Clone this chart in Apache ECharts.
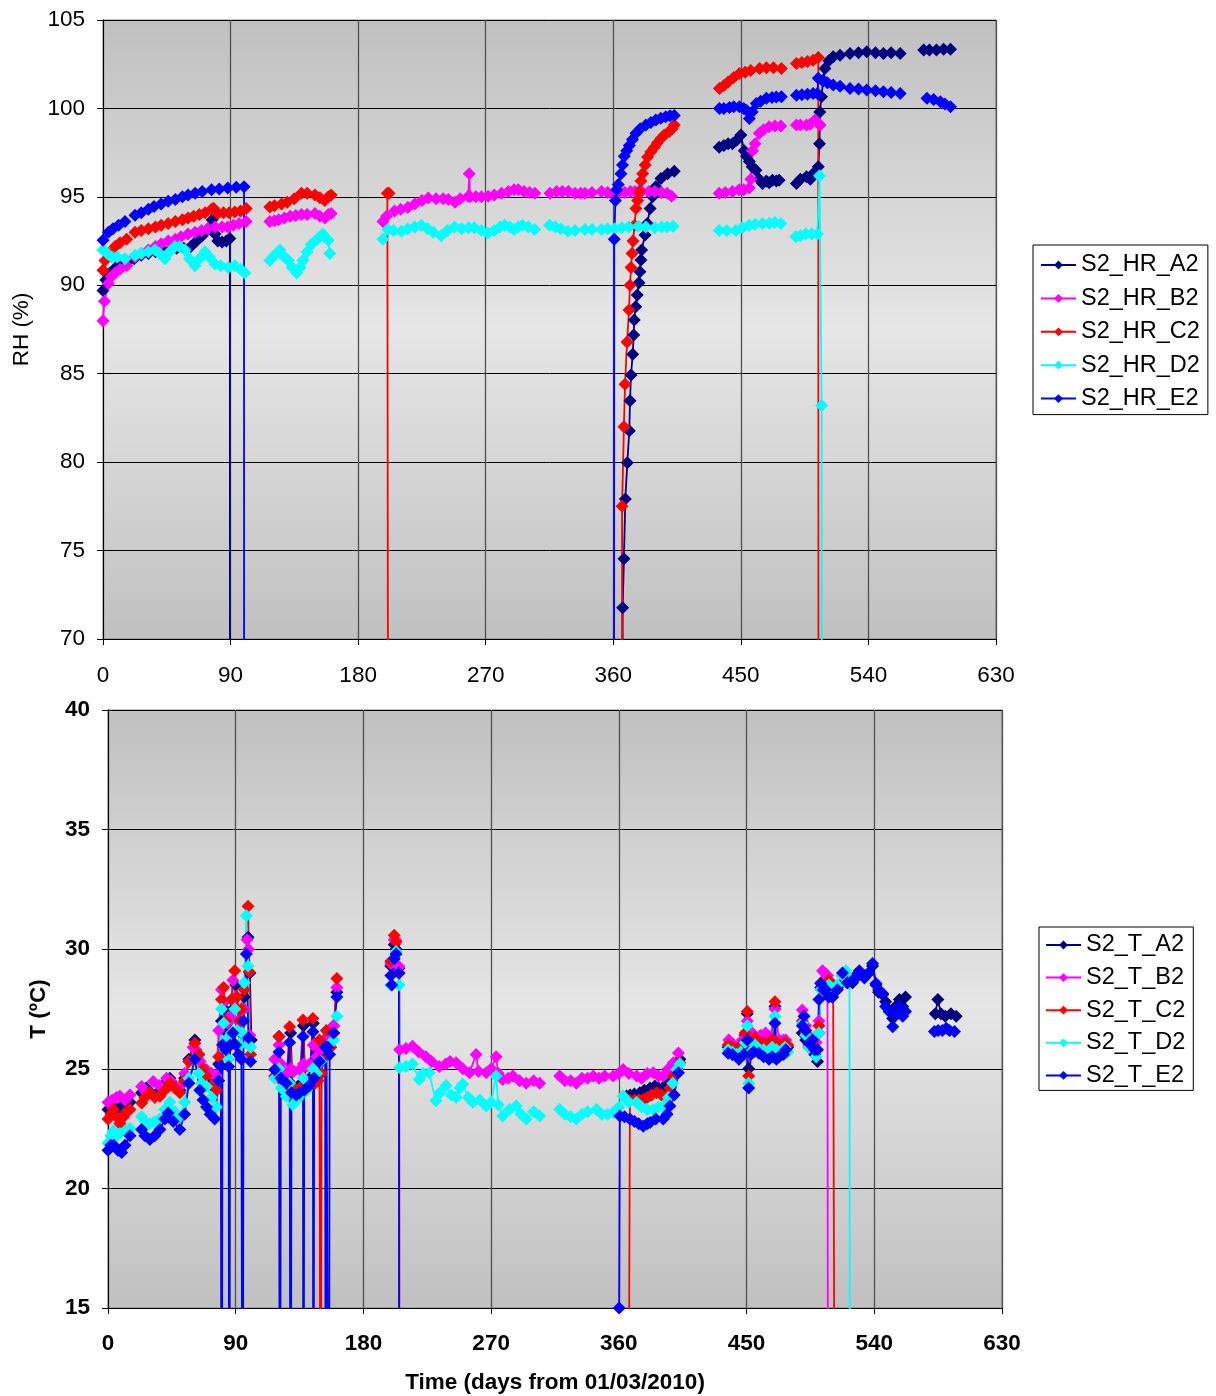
<!DOCTYPE html>
<html><head><meta charset="utf-8">
<script src="https://cdn.jsdelivr.net/npm/echarts@6/dist/echarts.min.js"></script>
<style>html,body{margin:0;padding:0;background:#fff}#c{width:1216px;height:1396px}</style>
</head><body><div id="c"></div>
<script>
// ---------- Data (day, value); null = gap, 0 = sensor drop below axis ----------
const xTicks = [0, 90, 180, 270, 360, 450, 540, 630];
const hrNames = ['S2_HR_A2','S2_HR_B2','S2_HR_C2','S2_HR_D2','S2_HR_E2'];
const tNames = ['S2_T_A2','S2_T_B2','S2_T_C2','S2_T_D2','S2_T_E2'];
const colors = ['#000080','#ff00ff','#ff0000','#00ffff','#0000ff'];

const hrA2 = [[0,89.7],[2,90.3],[5,90.7],[9,91.0],[13,91.2],[17,91.3],[19.5,null],
[22,91.5],[27,91.7],[32,91.8],[37,91.9],[42,92.0],[47,92.0],[52,92.1],[57,92.1],[62,92.2],[66,92.5],[70,92.8],[74,93.2],[77,93.7],[79,92.9],[81,92.5],[84,92.45],[87,92.5],[89.5,92.64],[89.7,0],[90,null],
[366.6,0],[366.6,71.77],[367.5,74.54],[368.5,77.92],[369.9,79.97],[371.3,81.78],[371.8,83.47],[372.5,84.93],[373.7,86.1],[374.4,87.19],[374.8,88.04],[375.8,88.79],[376.9,89.45],[378.1,90.15],[378.8,90.77],[379.5,91.43],[380,92.0],[382.4,92.85],[384,93.5],[386,94.34],[387.7,95.0],[390,95.57],[393.6,96.04],[398.3,96.3],[403,96.45],[404,null],
[434.7,97.8],[438,97.9],[441,98.0],[444,98.0],[447,98.2],[450,98.5],[452.4,97.6],[454,97.3],[456,97.0],[458,96.7],[460.6,96.5],[463,96.0],[465.3,95.75],[468,95.9],[470,95.8],[472.3,95.94],[475,95.9],[477,95.94],[480,null],
[489.2,95.76],[492,96.0],[496.3,96.14],[499,96.0],[501,96.3],[504.6,96.7],[505.5,98.0],[505.7,99.8],[506.9,100.66],[508,101.6],[509.3,102.26],[512,102.7],[515.2,102.92],[520,103.0],[527,103.1],[533,103.15],[538.8,103.2],[545,103.15],[550.6,103.1],[556,103.15],[562.4,103.1],[570,null],
[579,103.3],[583,103.3],[588,103.3],[593,103.35],[597.9,103.35]];

const hrB2 = [[0,88.0],[1,89.1],[3.8,90.1],[6,90.5],[8.5,90.7],[12,90.9],[16.7,91.1],[19.5,null],
[22.6,91.6],[27,91.8],[32,92.0],[37,92.2],[41,92.35],[46,92.5],[51,92.6],[55,92.75],[60,92.9],[65,93.0],[69.6,93.1],[74,93.2],[79,93.3],[84,93.3],[88,93.3],[92,93.4],[96,93.5],[101,93.6],[105,null],
[117.7,93.6],[121,93.65],[124,93.7],[128,93.8],[132,93.9],[136,93.95],[140,94.0],[144,94.0],[149.5,94.06],[153,93.9],[156.5,93.8],[159,94.0],[161,94.06],[170,null],
[197.5,93.6],[200,93.9],[205.7,94.2],[210,94.3],[215,94.4],[220,94.6],[225,94.8],[229.5,94.94],[235,94.9],[240,94.9],[243.6,94.85],[248.3,94.7],[252,94.9],[257.7,95.04],[258.4,96.3],[259,95.0],[263,95.0],[267,95.0],[271.8,95.04],[276,95.1],[281.2,95.2],[286,95.3],[290,95.4],[293,95.4],[297,95.3],[301,95.25],[304.7,95.2],[310,null],
[315.3,95.2],[320,95.3],[324,95.3],[328.3,95.3],[333,95.2],[337,95.2],[340,95.2],[345,95.25],[351.7,95.3],[356,95.25],[360,95.2],[363.5,95.2],[368,95.25],[372,95.3],[375.2,95.3],[380,95.3],[385,95.3],[389.3,95.3],[394,95.25],[398,95.2],[401.1,95.04],[410,null],
[434.7,95.2],[439,95.25],[444,95.3],[448.8,95.4],[452,95.4],[455.9,95.5],[457,96.0],[458.2,97.6],[460,98.0],[463,98.6],[466,98.8],[470,98.96],[474,99.0],[478.2,99.0],[483,null],
[489.2,99.06],[492,99.06],[496.3,99.06],[499,99.1],[502.2,99.34],[504,99.2],[506,99.06]];

const hrC2 = [[0,90.85],[1.4,91.4],[4,91.8],[8.5,92.2],[12,92.4],[16.7,92.6],[19.5,null],
[22.6,93.0],[27,93.1],[32,93.2],[37,93.3],[41,93.4],[46,93.5],[51,93.6],[56,93.7],[60,93.8],[64,93.9],[68,94.0],[72,94.1],[76.6,94.3],[78,94.35],[81,94.06],[85,94.1],[89,94.1],[93,94.15],[97,94.2],[101,94.34],[105,null],
[117.7,94.43],[121,94.5],[126,94.6],[130,94.7],[135,94.9],[140,95.2],[144,95.2],[149.5,95.1],[153,94.95],[156.5,94.8],[159,95.0],[161,95.1],[170,null],
[200.6,95.2],[201.8,95.2],[202.1,0],[205,null],
[366.2,0],[366.2,77.5],[367.5,82.0],[368.3,84.4],[369.7,86.8],[371.1,88.6],[371.8,90.0],[372.5,91.0],[373.2,91.8],[373.9,92.5],[375,93.4],[376,94.34],[377.2,94.8],[378.3,95.3],[379.5,95.9],[380.7,96.3],[382.5,96.8],[384.2,97.26],[386.5,97.55],[389,97.8],[391,98.05],[393.6,98.3],[396,98.5],[399.5,98.7],[401.5,98.85],[403,99.06],[410,null],
[434.9,101.13],[438,101.3],[441,101.5],[445,101.75],[449,101.98],[453,102.05],[457,102.15],[463.2,102.26],[468,102.3],[473,102.3],[478.6,102.26],[483,null],
[489.2,102.54],[493,102.6],[497,102.65],[501,102.73],[504.6,102.88],[505,0]];

const hrD2 = [[0,92.0],[3,91.8],[6,91.6],[10,91.6],[15.5,91.5],[19.5,null],
[22.6,91.7],[27,91.8],[32,91.9],[36.7,92.0],[40,91.8],[43.7,91.5],[47,91.9],[50.8,92.2],[54,92.2],[57.8,92.0],[61,91.5],[64.9,91.1],[68,91.5],[71.9,91.9],[75,91.6],[79,91.2],[83,91.1],[88.4,91.0],[93,91.1],[97,90.9],[100,90.7],[105,null],
[117.7,91.4],[121,91.7],[124.8,92.0],[128,91.6],[130.7,91.4],[133.5,91.0],[136.6,90.7],[139,91.0],[141,91.4],[144,91.9],[147,92.3],[151,92.6],[155,92.9],[158.9,92.55],[160,91.8],[170,null],
[197.5,92.6],[201,93.15],[205,93.1],[210.4,93.06],[215,93.2],[220,93.3],[224.5,93.4],[229,93.2],[233,93.0],[238.6,92.8],[243,93.1],[248,93.3],[253,93.2],[258,93.25],[262,93.25],[267,93.1],[271.5,92.96],[276,93.1],[280,93.3],[283.3,93.4],[287,93.3],[290,93.15],[293,93.3],[296,93.4],[300,93.3],[304.5,93.15],[310,null],
[315,93.4],[319,93.3],[323,93.2],[328,93.06],[333,93.1],[340,93.15],[345,93.15],[351.7,93.15],[356,93.2],[361,93.2],[366,93.25],[371,93.3],[377.6,93.34],[383,93.3],[389.3,93.25],[394,93.3],[398,93.3],[402.2,93.34],[410,null],
[434.7,93.1],[440,93.1],[446.5,93.1],[451,93.25],[455.9,93.4],[460,93.45],[465.3,93.5],[470,93.5],[474,93.55],[478.2,93.5],[483,null],
[488.8,92.74],[492,92.8],[495.8,92.9],[500,92.9],[504,92.9],[505.5,96.2],[507,83.2],[507.5,0]];

const hrE2 = [[0,92.55],[3.8,93.0],[7,93.2],[11,93.4],[15.5,93.6],[19.5,null],
[22.6,93.96],[27,94.1],[32,94.3],[36,94.45],[41,94.6],[46,94.75],[51,94.85],[56,95.0],[60,95.1],[65,95.2],[70,95.3],[76.6,95.4],[82,95.45],[88,95.5],[94,95.55],[99.5,95.57],[99.6,0],[105,null],
[360.2,0],[360.7,92.6],[361.5,94.8],[362.4,95.4],[363.5,95.7],[365.4,96.3],[366.5,96.8],[367.8,97.3],[369.5,97.6],[371.3,97.9],[373.5,98.25],[376,98.6],[379,98.85],[383,99.06],[386.5,99.2],[390,99.34],[393.5,99.45],[397,99.53],[400,99.58],[403,99.6],[410,null],
[434.9,100.0],[438,100.0],[442,100.05],[445,100.1],[449,100.1],[452,100.0],[454,99.9],[456,99.43],[458,99.8],[460.9,100.28],[464,100.4],[468,100.57],[472,100.62],[475,100.64],[478.6,100.66],[483,null],
[489.2,100.75],[493,100.78],[497,100.8],[501,100.85],[504,100.85],[504.6,101.7],[508,101.55],[511,101.45],[515.2,101.32],[520,101.25],[527,101.13],[533,101.1],[538.8,101.04],[545,101.0],[550.6,100.94],[556,100.9],[562.4,100.85],[570,null],
[581.3,100.57],[586,100.5],[590.8,100.38],[594,100.25],[597.9,100.09]];

const tA2 = [[0,23.3],[3,23.5],[6,23.3],[9,23.4],[12,23.6],[15.5,23.6],[19.5,null],
[23.7,24.0],[27,24.2],[30,24.0],[33,23.9],[37,24.1],[40,24.4],[43.6,24.6],[47,24.3],[50.6,24.1],[54,24.6],[57,25.4],[61.2,26.2],[64,25.6],[67,25.0],[69.4,24.8],[73,24.5],[76.4,24.4],[78,25.2],[80,27.0],[82,27.5],[84,26.5],[86,26.2],[88,27.5],[90,28.5],[92,27.0],[94,26.5],[96,28.0],[98.7,30.5],[100,29.0],[101,26.2],[110,null],
[120.5,26.35],[121,25.0],[124,24.6],[127,24.5],[128.7,26.5],[130,24.3],[133,24.2],[136,24.4],[137.7,26.8],[139,24.4],[142,24.6],[144.7,26.9],[146,24.8],[149,25.2],[152,25.8],[154,26.3],[156,26.2],[159,26.8],[161.3,28.2],[180,null],
[199.3,29.3],[201.7,30.2],[203,30.0],[205,29.2],[210,null],
[365.4,23.86],[368,23.9],[371,23.95],[374.8,24.0],[378,24.1],[382,24.2],[385.4,24.28],[388,24.2],[391.3,24.14],[394,24.4],[396,24.7],[399,24.9],[401,25.1],[403,25.4],[420,null],
[437,25.9],[440,26.0],[443,25.8],[446,25.9],[449,26.4],[450.5,27.3],[451.5,25.0],[453,25.9],[456,26.2],[459,26.0],[462,26.0],[465,25.9],[468,26.1],[470,27.6],[471,26.0],[474,25.9],[477,26.0],[479,25.9],[484,null],
[489.3,26.5],[491.7,26.2],[494,25.9],[496.4,26.0],[498,25.6],[500,25.3],[501,26.5],[502.3,28.4],[504,28.4],[506,28.3],[510.5,28.0],[514,28.4],[517.6,28.9],[521,28.6],[524.7,28.6],[527,28.9],[529.4,29.0],[533,28.9],[536,29.0],[538.8,29.3],[541.2,28.5],[543,28.2],[545.9,28.1],[548,27.8],[550.6,27.4],[553,27.1],[555,27.6],[557.7,27.9],[560,27.6],[562,28.0],[570,null],
[583,27.3],[584.8,27.9],[587,27.3],[590,27.2],[594,27.3],[597.7,27.2]];

const tB2 = [[0,23.6],[3,23.7],[6,23.8],[8.4,23.85],[12,23.7],[15.5,23.9],[19.5,null],
[23.7,24.26],[27,24.0],[31.9,24.47],[36,24.3],[41.3,24.6],[44,24.5],[48.3,24.2],[50.6,24.26],[54,24.8],[57,25.3],[60,25.9],[62,25.8],[65,25.3],[69.4,24.96],[73,24.8],[76.4,24.7],[78,26.6],[80,28.3],[82,27.8],[84,26.9],[86,27.2],[88,28.7],[90,28.0],[92,27.0],[94,26.5],[96,27.5],[98,30.4],[99,30.0],[100,26.4],[110,null],
[117.4,25.4],[120.5,26.0],[122,25.2],[125.6,24.8],[128.7,25.0],[131,24.9],[135,24.96],[137.7,25.2],[140,25.1],[142,25.2],[144.7,26.0],[147,25.5],[150,25.8],[153,26.2],[156,26.35],[159,26.8],[161.3,28.4],[180,null],
[199.3,29.4],[201.7,30.4],[202.9,30.37],[205.2,29.27],[205.5,25.8],[210,25.85],[214.6,25.94],[219,25.7],[224,25.5],[228,25.3],[233.5,25.1],[238,25.2],[241,25.3],[245.3,25.25],[250,25.0],[254.7,24.83],[259.4,25.6],[261,24.9],[266.5,24.83],[270,25.0],[273.5,25.5],[275,24.8],[278.2,24.55],[282,24.6],[285.3,24.7],[290,24.5],[294.7,24.4],[300,24.5],[304.2,24.4],[310,null],
[318.3,24.7],[322,24.5],[326,24.5],[330,24.4],[334,24.6],[338,24.6],[342,24.7],[346,24.6],[350,24.7],[356,24.7],[360,24.8],[363,24.97],[367,24.8],[372.5,24.7],[376,24.6],[380,24.8],[384.3,24.83],[388,24.7],[391.3,24.7],[395,25.0],[398.4,25.25],[402,25.66],[420,null],
[437.5,26.2],[441,26.0],[444,25.9],[447,26.2],[450.5,27.0],[452,25.6],[454,26.5],[457,26.3],[460,26.4],[463.4,26.5],[467,26.3],[470,27.5],[472.9,26.2],[476,26.2],[477.6,26.2],[484,null],
[489.3,27.46],[491.7,26.8],[494,26.3],[496.4,26.2],[499,26.1],[501,27.0],[503.5,29.1],[505,29.0],[507,28.9],[507.5,0]];

const tC2 = [[0,22.9],[2,23.1],[3.75,23.3],[6,23.0],[8.4,22.7],[11,23.0],[13,23.2],[15.5,23.3],[19.5,null],
[23.7,23.57],[26,23.8],[29.5,24.0],[33,23.8],[36.6,23.85],[40,24.1],[43.6,24.4],[47,24.2],[50.6,24.0],[54,24.5],[57,25.3],[61.2,26.07],[64,25.6],[67,25.0],[69.4,24.7],[73,24.3],[76.4,24.1],[78,25.5],[80,27.9],[81.5,28.4],[83,27.0],[85,25.9],[87,27.9],[89.3,29.1],[91,28.0],[93,27.0],[94,27.5],[96,28.3],[98.7,31.8],[99.5,29.06],[100.5,25.6],[110,null],
[117.4,24.7],[120.5,26.35],[122,24.5],[125.6,24.26],[128,26.76],[130,24.2],[132.7,24.1],[135,24.2],[137.4,27.04],[139,24.2],[142,24.3],[144.4,27.1],[146,24.4],[148,24.5],[149,26.2],[149.9,0],[150.5,24.8],[153.8,26.6],[155,25.6],[157,25.9],[159,26.5],[161.3,28.78],[180,null],
[199.3,29.5],[201.7,30.58],[203,30.3],[205.2,29.0],[205.5,0],[210,null],
[366.4,0],[367.8,23.66],[371,23.7],[374,23.7],[377.2,23.72],[380,23.8],[383,23.9],[386.6,24.0],[390,23.9],[393.7,23.86],[396,24.2],[398.4,24.7],[401,25.0],[403,25.25],[420,null],
[437,26.0],[440,25.9],[443,25.8],[446,26.0],[449,26.5],[450.5,27.4],[451.5,24.7],[453,26.0],[456,26.3],[459,26.1],[462,26.1],[465,26.0],[468,26.2],[470,27.8],[471,26.1],[474,26.0],[477,26.1],[479,26.0],[484,null],
[489.3,27.0],[491.7,26.5],[494,26.0],[496.4,26.1],[499,25.8],[501,26.8],[502.3,28.6],[505,28.5],[508,28.7],[511,28.5],[512.5,0]];

const tD2 = [[0,21.9],[2,22.2],[3.75,22.4],[6,22.2],[8.4,22.3],[12,22.4],[15.5,22.5],[19.5,null],
[23.7,23.0],[26,22.8],[29.5,22.7],[33,22.8],[36.6,22.9],[40,23.3],[43.6,23.6],[47,23.2],[50.6,23.0],[54,23.6],[57,24.6],[61.2,25.4],[64,24.8],[66,24.4],[69.4,24.26],[73,23.8],[76.4,23.4],[78,24.5],[80,27.5],[81.5,26.9],[83,26.2],[85,25.4],[87,26.5],[89.3,27.5],[91,26.6],[93,26.0],[94.5,26.5],[96,28.6],[97.5,31.4],[98.7,29.3],[99.5,26.0],[100.5,25.9],[110,null],
[117.4,24.6],[120.5,25.0],[122,24.2],[125.6,23.85],[128,24.4],[130.3,23.5],[133,23.7],[135,23.85],[137.7,24.6],[140,24.1],[142,24.3],[144.4,25.0],[147,24.8],[150,25.3],[153,25.9],[156,26.0],[159,26.2],[161.3,27.2],[180,null],
[199.3,28.5],[201.7,29.6],[203,29.9],[205.2,28.5],[205.5,25.04],[210,25.1],[214.6,25.2],[219.3,24.55],[222,24.8],[226.4,24.83],[231,23.66],[234,24.0],[238.2,24.3],[242,23.9],[245.3,23.8],[248,24.2],[250,24.35],[254,23.8],[257,23.6],[262,23.7],[266.5,23.45],[270,23.6],[273.5,24.7],[275,23.5],[278.2,23.03],[283,23.3],[287.7,23.45],[291,23.1],[294.7,22.9],[300,23.2],[304.2,23.03],[310,null],
[318.3,23.3],[322,23.1],[326,23.0],[330,22.9],[334,23.1],[338,23.2],[344.2,23.3],[348,23.1],[352,23.1],[356,23.17],[360,23.4],[363,23.86],[367,23.6],[372.5,23.6],[376,23.4],[380,23.3],[384.3,23.3],[388,23.4],[391.3,23.45],[395,23.8],[398,24.4],[400.7,24.97],[403,25.2],[420,null],
[437,25.8],[440,25.7],[443,25.6],[446,25.7],[449,26.1],[450.5,26.8],[451.5,24.4],[453,25.7],[456,26.0],[459,25.8],[462,25.8],[465,25.6],[468,25.9],[470,27.2],[471,25.8],[474,25.7],[477,25.9],[479,25.7],[484,null],
[489.3,26.9],[491.7,26.4],[494,25.9],[496.4,25.9],[499,25.5],[501,26.5],[502.3,28.3],[505,28.3],[508,28.5],[511,28.2],[514,28.5],[517.6,28.9],[520,29.1],[522.5,28.8],[523,0]];

const tE2 = [[0,21.6],[2,21.8],[4,21.8],[7,21.6],[9.6,21.5],[12,21.8],[15.5,22.2],[19.5,null],
[23.7,22.46],[26,22.2],[29.5,22.04],[33,22.2],[36.6,22.46],[40,22.9],[42.4,23.15],[46,22.8],[50.6,22.46],[54,23.1],[57,24.4],[61.2,25.4],[64.7,24.1],[67,23.7],[69.4,23.4],[72,23.1],[75.2,22.9],[78,24.5],[79.5,25.1],[80.1,0],[80.7,26.0],[83,25.8],[85,25.1],[85.5,0],[86,26.0],[88,26.5],[90,26.0],[92,25.6],[94,25.4],[94.9,0],[95.5,27.0],[97.5,29.8],[99,26.3],[100.5,25.3],[110,null],
[117.4,24.96],[120.5,25.7],[121.2,0],[121.8,24.6],[125.6,24.4],[128,26.1],[128.7,0],[129.3,24.0],[132.7,23.9],[135,24.0],[137.4,26.35],[137.7,0],[138.3,24.1],[142,24.3],[144.4,26.55],[144.7,0],[145.3,24.6],[149,25.3],[153,25.9],[153.5,0],[154,25.9],[155,25.9],[155.6,0],[156.2,25.6],[159,26.5],[161.3,28.0],[180,null],
[199.3,28.9],[200,28.5],[201.7,29.6],[203,29.8],[205,29.0],[205.3,0],[210,null],
[360.2,15],[360.7,23.03],[364,23.0],[367.8,22.9],[371,22.8],[374,22.7],[377.2,22.6],[380,22.7],[382,22.75],[386,22.9],[391.3,22.9],[394,23.1],[396,23.45],[399,23.9],[402,24.83],[420,null],
[437,25.65],[440,25.6],[444.6,25.4],[448,25.6],[450.5,26.2],[451.5,24.2],[453,25.6],[455,25.7],[458.7,25.65],[462,25.5],[465.8,25.4],[468,25.5],[470,26.9],[471,25.4],[472.9,25.5],[476,25.6],[477.6,25.8],[484,null],
[489.3,26.8],[490.5,27.2],[491.7,26.6],[494,26.07],[496.4,26.2],[498,25.8],[500,25.8],[501,27.9],[502.3,28.57],[504,28.3],[505.8,28.3],[508,28.0],[510.5,28.0],[514,28.3],[517.6,29.0],[521,28.6],[524.7,28.7],[527,28.8],[529.4,29.1],[533,28.8],[536,29.0],[538.8,29.4],[541.2,28.57],[543,28.3],[545.9,28.15],[548,27.6],[550.6,27.4],[553,26.76],[555,27.3],[557.7,27.6],[560,27.2],[562,27.4],[570,null],
[582.4,26.56],[585,26.6],[588,26.6],[590.7,26.7],[593,26.6],[596.5,26.56]];

// ---------- Chart ----------
const FONT = 'Liberation Sans, Arial, sans-serif';
const prep = arr => arr.map(p => [p[0], p[1] === null ? '-' : p[1]]);
const bg = {type:'linear', x:0, y:0, x2:0, y2:1, colorStops:[
  {offset:0, color:'#c0c0c0'},{offset:0.5, color:'#e6e6e6'},{offset:1, color:'#c0c0c0'}]};

function mkSeries(name, data, idx, color){
  return {name, type:'line', xAxisIndex:idx, yAxisIndex:idx, data:prep(data),
    symbol:'diamond', symbolSize:13, showSymbol:true, showAllSymbol:true,
    connectNulls:false, clip:true, animation:false,
    lineStyle:{width:1.8, color}, itemStyle:{color}, emphasis:{disabled:true}};
}
const hrData = [hrA2, hrB2, hrC2, hrD2, hrE2];
const tData = [tA2, tB2, tC2, tD2, tE2];
const series = [];
hrData.forEach((d,i)=>series.push(mkSeries(hrNames[i], d, 0, colors[i])));
tData.forEach((d,i)=>series.push(mkSeries(tNames[i], d, 1, colors[i])));

function xAx(idx, bold, name){
  return {type:'value', gridIndex:idx, min:xTicks[0], max:xTicks[xTicks.length-1], interval:90,
    axisLine:{show:true, onZero:false, lineStyle:{color:'#000', width:1}},
    axisTick:{show:true, inside:false, length:6, lineStyle:{color:'#000'}},
    axisLabel:{fontSize:22.5, fontFamily:FONT, color:'#000', fontWeight:bold?'bold':'normal', margin:bold?24:25},
    splitLine:{show:true, lineStyle:{color:'#505050', width:1.3}},
    name:name||'', nameLocation:'middle', nameGap:63,
    nameTextStyle:{fontSize:22.5, fontFamily:FONT, fontWeight:'bold', color:'#000'}};
}
function yAx(idx, min, max, bold, name, gap){
  return {type:'value', gridIndex:idx, min, max, interval:5,
    axisLine:{show:true, lineStyle:{color:'#000', width:1}},
    axisTick:{show:true, inside:false, length:6, lineStyle:{color:'#000'}},
    axisLabel:{fontSize:22.5, fontFamily:FONT, color:'#000', fontWeight:bold?'bold':'normal', margin:18},
    splitLine:{show:true, lineStyle:{color:'#000', width:1}},
    name, nameLocation:'middle', nameGap:gap, nameRotate:90,
    nameTextStyle:{fontSize:22.5, fontFamily:FONT, fontWeight:bold?'bold':'normal', color:'#000'}};
}
function legend(names, left, top, pad, gap){
  return {data:names, orient:'vertical', left, top, padding:pad, itemGap:gap,
    itemWidth:35, itemHeight:11, backgroundColor:'#fff', borderColor:'#000', borderWidth:1,
    selectedMode:false, textStyle:{fontSize:23.5, fontFamily:FONT, color:'#000'}};
}

const chart = echarts.init(document.getElementById('c'), null, {renderer:'canvas'});
chart.setOption({
  animation:false,
  backgroundColor:'#fff',
  grid:[
    {left:103, top:20, width:893, height:619, show:true, backgroundColor:bg, borderColor:'#808080', borderWidth:1},
    {left:108, top:710, width:894, height:598, show:true, backgroundColor:bg, borderColor:'#808080', borderWidth:1}
  ],
  xAxis:[xAx(0,false,''), xAx(1,true,'Time (days from 01/03/2010)')],
  yAxis:[yAx(0,70,105,false,'RH (%)',70), yAx(1,15,40,true,'T (ºC)',58)],
  legend:[legend(hrNames,1033,245,[8,8,4,7],9.4), legend(tNames,1039,927,[6,8,3,6],8.6)],
  series
});
</script></body></html>
